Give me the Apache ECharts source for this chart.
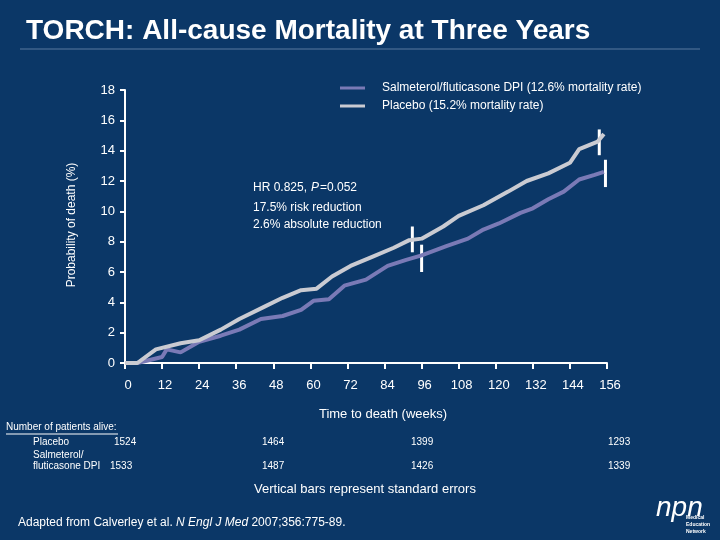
<!DOCTYPE html>
<html>
<head>
<meta charset="utf-8">
<script src="https://cdn.jsdelivr.net/npm/echarts@6/dist/echarts.min.js"></script>
<style>html,body{margin:0;padding:0;background:#0b3767;}#main{width:720px;height:540px;}</style>
</head>
<body>
<div id="main"></div>
<script>
// [week, % dead]
var placebo = [[0,0],[4,0],[10,0.9],[18,1.3],[24,1.5],[31,2.2],[37,2.9],[45,3.7],[51,4.3],[57,4.8],[62,4.9],[67,5.7],[73,6.4],[80,7.0],[87,7.6],[92,8.1],[96,8.2],[103,9.0],[108,9.7],[116,10.4],[124,11.3],[130,12.0],[137,12.5],[144,13.2],[147,14.1],[153,14.6],[155,15.1]];
var salm = [[0,0],[4,0],[12,0.4],[13.5,0.9],[18,0.7],[24,1.4],[31,1.8],[37,2.2],[44,2.9],[51,3.1],[57,3.5],[61,4.1],[66,4.2],[71,5.1],[78,5.5],[85,6.4],[91,6.8],[96,7.1],[104,7.7],[111,8.2],[116,8.8],[121,9.2],[128,9.9],[132,10.2],[137,10.8],[142,11.3],[147,12.1],[152,12.4],[155,12.6]];
// [week, low, high]
var errBars = [[93,7.3,9.0],[96,6.0,7.8],[153.5,13.7,15.4],[155.5,11.6,13.4]];

var chart = echarts.init(document.getElementById('main'));
chart.setOption({
    backgroundColor:'#0b3767',
    animation:false,
    grid:{left:125,right:113,top:90,bottom:177},
    legend:{
        orient:'vertical',left:335,top:77,itemGap:6,itemWidth:25,itemHeight:3,
        textStyle:{color:'#fff',fontFamily:'Arial',fontSize:12,padding:[0,0,0,12]},
        data:[{name:'Salmeterol/fluticasone DPI (12.6% mortality rate)',icon:'rect'},{name:'Placebo (15.2% mortality rate)',icon:'rect'}]
    },
    xAxis:{
        type:'value',min:0,max:156,interval:12,
        axisLine:{lineStyle:{color:'#fff',width:2}},
        axisTick:{show:true,length:6,lineStyle:{color:'#fff',width:2}},
        axisLabel:{color:'#fff',fontFamily:'Arial',fontSize:13,margin:16,padding:[0,0,0,6]},
        splitLine:{show:false}
    },
    yAxis:{
        type:'value',min:0,max:18,interval:2,
        axisLine:{show:true,lineStyle:{color:'#fff',width:2}},
        axisTick:{show:true,length:5,lineStyle:{color:'#fff',width:2}},
        axisLabel:{color:'#fff',fontFamily:'Arial',fontSize:13,margin:10},
        splitLine:{show:false}
    },
    series:[
        {name:'Salmeterol/fluticasone DPI (12.6% mortality rate)',type:'line',data:salm,showSymbol:false,
         itemStyle:{color:'#7a7ab6'},lineStyle:{color:'#7a7ab6',width:4}},
        {name:'Placebo (15.2% mortality rate)',type:'line',data:placebo,showSymbol:false,
         itemStyle:{color:'#cacbd2'},lineStyle:{color:'#cacbd2',width:4}},
        {type:'custom',data:errBars,renderItem:function(params,api){
            var a = api.coord([api.value(0),api.value(1)]);
            var b = api.coord([api.value(0),api.value(2)]);
            return {type:'line',shape:{x1:a[0],y1:a[1],x2:b[0],y2:b[1]},style:{stroke:'#fff',lineWidth:3}};
        }}
    ],
    graphic:[
        {type:'text',left:26,top:17,style:{text:'TORCH: All-cause Mortality at Three Years',fill:'#fff',fontFamily:'Arial',fontSize:28,fontWeight:'bold'}},
        {type:'line',shape:{x1:20,y1:49,x2:700,y2:49},style:{stroke:'#5a7aa0',lineWidth:1}},
        {type:'text',x:72,y:225,rotation:Math.PI/2,style:{text:'Probability of death (%)',fill:'#fff',fontFamily:'Arial',fontSize:12,align:'center',verticalAlign:'middle'}},
        {type:'text',left:253,top:182,style:{text:'HR 0.825, ',fill:'#fff',fontFamily:'Arial',fontSize:12}},
        {type:'text',left:311,top:182,style:{text:'P',fill:'#fff',fontFamily:'Arial',fontSize:12,fontStyle:'italic'}},
        {type:'text',left:320,top:182,style:{text:'=0.052',fill:'#fff',fontFamily:'Arial',fontSize:12}},
        {type:'text',left:253,top:199,style:{text:'17.5% risk reduction\n2.6% absolute reduction',fill:'#fff',fontFamily:'Arial',fontSize:12,lineHeight:17}},
        {type:'text',x:383,y:414,style:{text:'Time to death (weeks)',fill:'#fff',fontFamily:'Arial',fontSize:13,align:'center',verticalAlign:'middle'}},
        {type:'text',left:6,top:422,style:{text:'Number of patients alive:',fill:'#fff',fontFamily:'Arial',fontSize:10}},
        {type:'line',shape:{x1:6,y1:434,x2:118,y2:434},style:{stroke:'#fff',lineWidth:1}},
        {type:'text',left:33,top:437,style:{text:'Placebo',fill:'#fff',fontFamily:'Arial',fontSize:10}},
        {type:'text',left:33,top:450,style:{text:'Salmeterol/',fill:'#fff',fontFamily:'Arial',fontSize:10}},
        {type:'text',left:33,top:461,style:{text:'fluticasone DPI',fill:'#fff',fontFamily:'Arial',fontSize:10}},
        {type:'text',left:114,top:437,style:{text:'1524',fill:'#fff',fontFamily:'Arial',fontSize:10}},
        {type:'text',left:262,top:437,style:{text:'1464',fill:'#fff',fontFamily:'Arial',fontSize:10}},
        {type:'text',left:411,top:437,style:{text:'1399',fill:'#fff',fontFamily:'Arial',fontSize:10}},
        {type:'text',left:608,top:437,style:{text:'1293',fill:'#fff',fontFamily:'Arial',fontSize:10}},
        {type:'text',left:110,top:461,style:{text:'1533',fill:'#fff',fontFamily:'Arial',fontSize:10}},
        {type:'text',left:262,top:461,style:{text:'1487',fill:'#fff',fontFamily:'Arial',fontSize:10}},
        {type:'text',left:411,top:461,style:{text:'1426',fill:'#fff',fontFamily:'Arial',fontSize:10}},
        {type:'text',left:608,top:461,style:{text:'1339',fill:'#fff',fontFamily:'Arial',fontSize:10}},
        {type:'text',x:365,y:489,style:{text:'Vertical bars represent standard errors',fill:'#fff',fontFamily:'Arial',fontSize:13,align:'center',verticalAlign:'middle'}},
        {type:'text',left:18,top:517,style:{rich:{n:{fill:'#fff',fontFamily:'Arial',fontSize:12},i:{fill:'#fff',fontFamily:'Arial',fontSize:12,fontStyle:'italic'}},
            text:'{n|Adapted from Calverley et al. }{i|N Engl J Med}{n| 2007;356:775-89.}'}},
        {type:'text',left:656,top:494,style:{text:'npn',fill:'#fff',fontFamily:'Arial',fontSize:28,fontStyle:'italic'}},
        {type:'text',left:686,top:514,style:{text:'Medical\nEducation\nNetwork',fill:'#fff',fontFamily:'Arial',fontSize:5,fontWeight:'bold',lineHeight:7}}
    ]
});
</script>
</body>
</html>
